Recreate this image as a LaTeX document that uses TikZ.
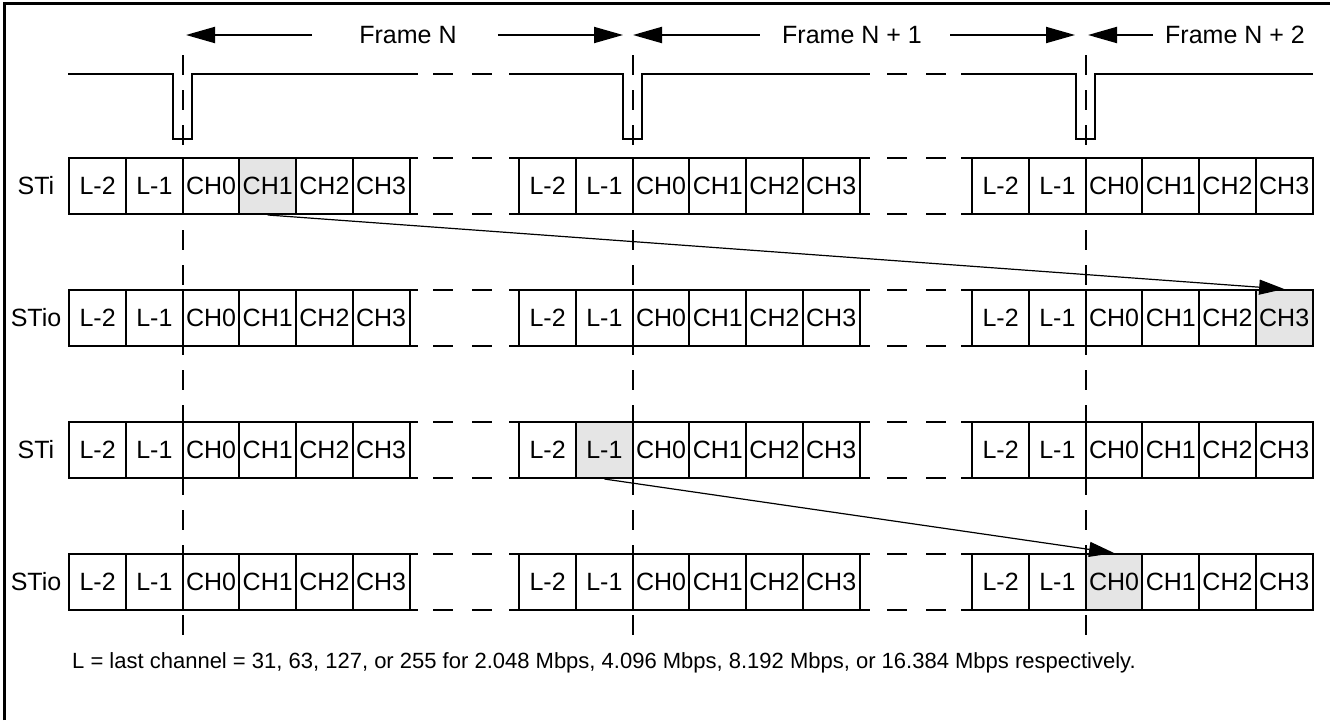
\documentclass[tikz,border=0pt]{standalone}
\usepackage{fontspec}
\setmainfont{Liberation Sans}
\usetikzlibrary{arrows.meta}

\tikzset{
  slot/.style={draw, line width=2pt, minimum width=56.7pt, minimum height=56pt, inner sep=0pt, font=\fontsize{25}{30}\selectfont},
  wire/.style={line width=2pt},
  gap/.style={line width=2pt, dash pattern=on 20pt off 19pt},
  tick/.style={line width=2pt, dash pattern=on 20pt off 15pt},
  span/.style={line width=2pt, -{Triangle[length=29pt,width=16pt]}},
  move/.style={line width=1.2pt, -{Triangle[length=25pt,width=15pt]}},
  lbl/.style={font=\fontsize{25}{30}\selectfont, inner sep=0pt},
  % shaded time slots: row, frame, slot
  hit103/.style={fill=black!10},
  hit225/.style={fill=black!10},
  hit311/.style={fill=black!10},
  hit422/.style={fill=black!10}
}

\begin{document}
\begin{tikzpicture}[x=1pt,y=-1pt]
\useasboundingbox (0,0) rectangle (1330,720);

% outer frame
\draw[line width=3pt] (4,720) -- (4,3) -- (1330,3);

% frame boundaries and sync pulse
\foreach \x/\a/\b in {183/68/418, 633/509/870, 1086/961/1313}{
  \draw[tick] (\x,55) -- (\x,640);
  \draw[wire] (\a,74) -| ({\x-10},139) -| ({\x+9},74) -- (\b,74);
}

% streams
\foreach \r/\y/\name in {1/186/STi, 2/318/STio, 3/450/STi, 4/582/STio}{
  \node[lbl] (n\r) at (36,\y) {\name};
  \foreach \f/\x/\a/\b in {0/183/69/418, 1/633/509/870, 2/1086/961/1313}{
    \draw[wire] (\a,{\y-28}) -- (\b,{\y-28});
    \draw[wire] (\a,{\y+28}) -- (\b,{\y+28});
    \foreach \k/\t in {0/L-2,1/L-1,2/CH0,3/CH1,4/CH2,5/CH3}
      \node[slot, hit\r\f\k/.try] (s\r\f\k) at ({\x-85.35+56.7*\k},\y) {\t};
  }
}

% gaps between frames
\foreach \y in {74,158,214,290,346,422,478,554,610}{
  \draw[gap] (433,\y) -- (495,\y);
  \draw[gap] (887,\y) -- (947,\y);
}

% frame labels
\node[lbl] (fN) at (408,35) {Frame N};
\node[lbl] (fN1) at (852,35) {Frame N + 1};
\node[lbl] (fN2) at (1235,35) {Frame N + 2};
\coordinate (t0) at (186,35);
\coordinate (t1) at (623,35);
\coordinate (t2) at (633,35);
\coordinate (t3) at (1075,35);
\coordinate (t4) at (1088,35);
\draw[span] ([xshift=-47pt]fN.west) -- (t0);
\draw[span] ([xshift=41pt]fN.east) -- (t1);
\draw[span] ([xshift=-22pt]fN1.west) -- (t2);
\draw[span] ([xshift=28pt]fN1.east) -- (t3);
\draw[span] ([xshift=-12pt]fN2.west) -- (t4);

% switched channels
\draw[move] (s103.south) -- (s225.north);
\draw[move] (s311.south) -- (s422.north);

\node[anchor=west, inner sep=0pt, font=\fontsize{22}{26}\selectfont] (note) at (72,663)
  {L = last channel = 31, 63, 127, or 255 for 2.048 Mbps, 4.096 Mbps, 8.192 Mbps, or 16.384 Mbps respectively.};
\end{tikzpicture}
\end{document}
